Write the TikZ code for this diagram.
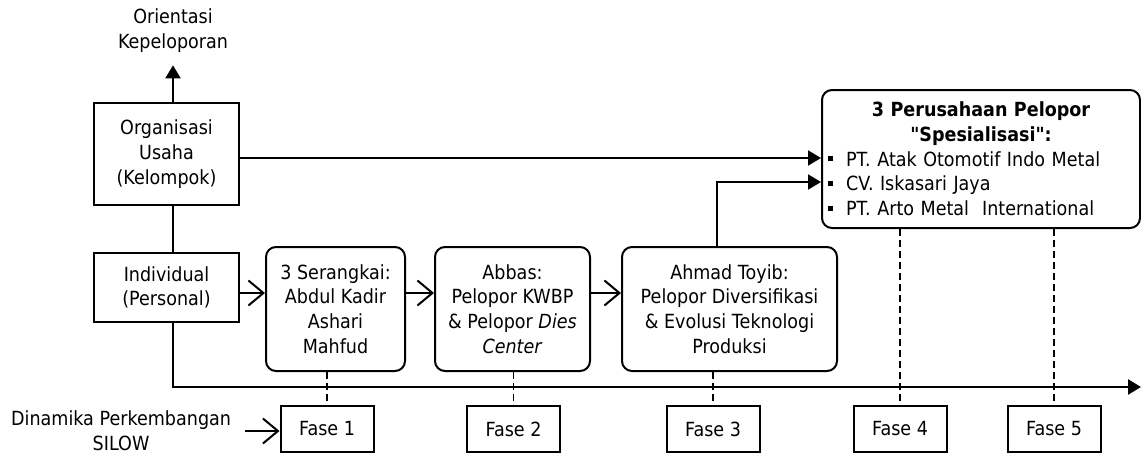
\documentclass[tikz,border=0pt]{standalone}
\usepackage{fontspec}
\setmainfont{DejaVu Sans}[FakeStretch=0.9,Ligatures=TeXOff]
\usetikzlibrary{positioning,arrows.meta,calc}
\newcommand{\sqbul}{\rule[0.25em]{5pt}{5pt}\hspace{13pt}}

\begin{document}
\begin{tikzpicture}[x=1pt,y=-1pt,line width=2pt,
  font=\fontsize{19.5}{24.7}\selectfont,
  box/.style={draw,align=center,inner sep=0pt,minimum height=69pt},
  rbox/.style={box,rounded corners=10pt,minimum height=124pt},
  fase/.style={box,minimum width=93pt,minimum height=46pt},
  openhead/.style={-{Straight Barb[length=15pt,width=25pt]}},
  tri/.style={-{Triangle[length=13pt,width=15pt]}},
  dsh/.style={line width=1.8pt,dash pattern=on 7pt off 4pt}]
\useasboundingbox (0,0) rectangle (1141,455);
% helper lines
\coordinate (spine) at (173,0); \coordinate (row) at (0,293);
\coordinate (r1) at (0,158); \coordinate (r2) at (0,182);
\coordinate (up) at (717,0); \coordinate (end) at (1141,387);
% left column
\node[align=center,inner ysep=12pt] (ori) at (173,30.5) {Orientasi\\Kepeloporan};
\node[box,minimum width=145pt,minimum height=102pt] (org) at (166.5,154) {Organisasi\\Usaha\\(Kelompok)};
\node[box,minimum width=145pt] (ind) at (166.5,287.5) {Individual\\(Personal)};
% pioneers
\node[rbox,minimum width=139pt] (ser) at (335.5,309) {3 Serangkai:\\Abdul Kadir\\Ashari\\Mahfud};
\node[rbox,minimum width=155pt] (abb) at (512.5,309) {Abbas:\\Pelopor KWBP\\\& Pelopor \textit{Dies}\\\textit{Center}};
\node[rbox,minimum width=215pt] (ahm) at (729.5,309) {Ahmad Toyib:\\Pelopor Diversifikasi\\\& Evolusi Teknologi\\Produksi};
\node[rbox,minimum width=318pt,minimum height=138pt,text width=306pt,align=left] (pt) at (981,159)
  {{\centering\bfseries 3 Perusahaan Pelopor\\"Spesialisasi":\par}
   \sqbul PT. Atak Otomotif Indo Metal\\
   \sqbul CV. Iskasari Jaya\\
   \sqbul PT. Arto Metal\ \ International};
% phases
\node[fase] (f1) at (327,429) {Fase 1};
\node[fase] (f2) at (513.5,429) {Fase 2};
\node[fase] (f3) at (713,429) {Fase 3};
\node[fase] (f4) at (900,429) {Fase 4};
\node[fase] (f5) at (1054,429) {Fase 5};
\node[align=center,anchor=east,inner xsep=13pt,inner ysep=1pt] (din) at (245,431) {Dinamika Perkembangan\\SILOW};
% connectors
\draw[tri] (org.north -| spine) -- (ori.south);
\draw (org.south -| spine) -- (ind.north -| spine);
\draw[tri,line width=2.6pt] (ind.south -| spine) |- (end);
\draw[openhead] (ind.east |- row) -- (ser.west |- row);
\draw[openhead] (ser.east |- row) -- (abb.west |- row);
\draw[openhead] (abb.east |- row) -- (ahm.west |- row);
\draw[openhead] (din.east) -- (din.east -| f1.west);
\draw[tri] (org.east |- r1) -- (pt.west |- r1);
\draw[tri] (ahm.north -| up) |- (pt.west |- r2);
\draw[dsh] (ser.south -| f1) -- (f1.north);
\draw[dsh] (abb.south -| f2) -- (f2.north);
\draw[dsh] (ahm.south -| f3) -- (f3.north);
\draw[dsh] (pt.south -| f4) -- (f4.north);
\draw[dsh] (pt.south -| f5) -- (f5.north);
\end{tikzpicture}
\end{document}
